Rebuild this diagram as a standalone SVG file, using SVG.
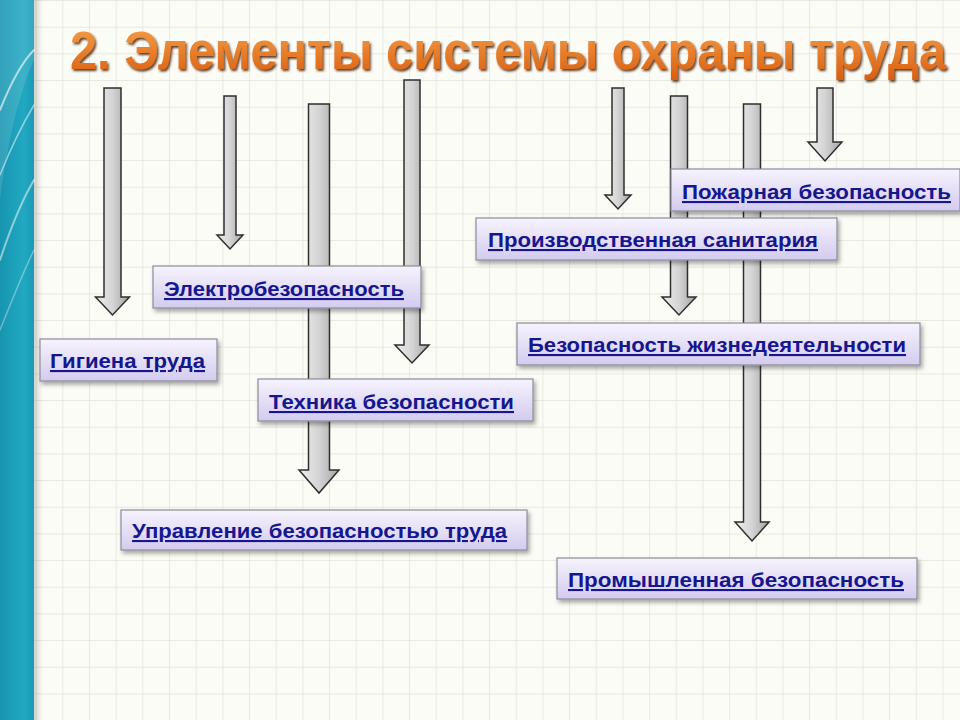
<svg xmlns="http://www.w3.org/2000/svg" width="960" height="720" viewBox="0 0 960 720">
<defs>
  <pattern id="grid" x="9" y="0" width="26.67" height="26.67" patternUnits="userSpaceOnUse">
    <path d="M0 0H26.67M0 0V26.67" fill="none" stroke="#e2e2da" stroke-width="1.4"/>
  </pattern>
  <linearGradient id="teal" x1="0" y1="0" x2="1" y2="0">
    <stop offset="0" stop-color="#1795b0"/>
    <stop offset="0.7" stop-color="#22a8c2"/>
    <stop offset="1" stop-color="#1a9ab4"/>
  </linearGradient>
  <linearGradient id="edge" x1="0" y1="0" x2="1" y2="0">
    <stop offset="0" stop-color="#000" stop-opacity="0.18"/>
    <stop offset="1" stop-color="#000" stop-opacity="0"/>
  </linearGradient>
  <linearGradient id="shaft" x1="0" y1="0" x2="1" y2="0">
    <stop offset="0" stop-color="#eeeeee"/>
    <stop offset="0.5" stop-color="#d4d4d4"/>
    <stop offset="1" stop-color="#a4a4a4"/>
  </linearGradient>
  <linearGradient id="box" x1="0" y1="0" x2="0" y2="1">
    <stop offset="0" stop-color="#f6f3fd"/>
    <stop offset="1" stop-color="#d4cbef"/>
  </linearGradient>
  <linearGradient id="title" x1="0" y1="0" x2="0" y2="1">
    <stop offset="0" stop-color="#f8a24a"/>
    <stop offset="1" stop-color="#d85e12"/>
  </linearGradient>
  <filter id="shadow" x="-5%" y="-20%" width="115%" height="150%">
    <feDropShadow dx="2" dy="3" stdDeviation="2" flood-color="#000" flood-opacity="0.35"/>
  </filter>
  <filter id="tshadow" x="-5%" y="-20%" width="110%" height="150%">
    <feDropShadow dx="1.5" dy="1.7" stdDeviation="1" flood-color="#4a2000" flood-opacity="0.85"/>
  </filter>
</defs>
<style>
  .arrow { fill: url(#shaft); stroke: #2e2e2e; stroke-width: 1.5; stroke-linejoin: miter; }
  .box { fill: url(#box); stroke: #8c8c9a; stroke-width: 1.2; filter: url(#shadow); }
  .lbl { font-family: "Liberation Sans", Arial, sans-serif; font-weight: bold; font-size: 21px; fill: #16168e; text-decoration: underline; }
  .title { font-family: "Liberation Sans", Arial, sans-serif; font-weight: bold; font-size: 44px; fill: url(#title); filter: url(#tshadow); }
</style>

<rect width="960" height="720" fill="#fcfcf7"/>
<rect x="33" width="927" height="720" fill="url(#grid)"/>
<rect x="33" width="10" height="720" fill="url(#edge)"/>
<rect width="34" height="720" fill="url(#teal)"/>
<g fill="none" stroke="#ffffff" stroke-linecap="round">
  <path d="M0 110 C 12 80, 24 60, 34 50" stroke-opacity="0.6" stroke-width="2"/>
  <path d="M0 175 C 10 150, 22 125, 34 105" stroke-opacity="0.5" stroke-width="1.5"/>
  <path d="M0 260 C 10 230, 22 200, 34 180" stroke-opacity="0.5" stroke-width="2"/>
  <path d="M0 330 C 12 300, 24 270, 34 250" stroke-opacity="0.35" stroke-width="1.5"/>
</g>
<path d="M0 0 H34 V60 C 20 90, 8 140, 0 200 Z" fill="#ffffff" fill-opacity="0.12"/>

<text class="title" transform="scale(1,1.2)" x="70" y="57.5" textLength="876" lengthAdjust="spacingAndGlyphs">2. Элементы системы охраны труда</text>

<g id="connectors">
  <polygon class="arrow" points="104,88 121,88 121,297 129.5,297 112.5,315 95.5,297 104,297"/>
  <polygon class="arrow" points="224,96 236,96 236,235 243,235 230,249 217,235 224,235"/>
  <polygon class="arrow" points="308.5,104 329.5,104 329.5,470 339,470 319,493 299,470 308.5,470"/>
  <polygon class="arrow" points="404,80 420,80 420,345 429,345 412,363 395,345 404,345"/>
  <polygon class="arrow" points="612,88 624,88 624,195 631,195 618,209 605,195 612,195"/>
  <polygon class="arrow" points="670.5,96 687.5,96 687.5,297 696,297 679,315 662,297 670.5,297"/>
  <polygon class="arrow" points="743.5,104 760.5,104 760.5,522 769,522 752,541 735,522 743.5,522"/>
  <polygon class="arrow" points="817,88 833,88 833,142 842,142 825,161 808,142 817,142"/>
</g>

<g id="node-gigiena">
  <rect class="box" x="40" y="339" width="177" height="42"/>
  <text class="lbl" x="50" y="368" textLength="155" lengthAdjust="spacingAndGlyphs">Гигиена труда</text>
</g>
<g id="node-elektro">
  <rect class="box" x="153" y="266" width="268" height="42"/>
  <text class="lbl" x="164" y="296" textLength="240" lengthAdjust="spacingAndGlyphs">Электробезопасность</text>
</g>
<g id="node-tehnika">
  <rect class="box" x="258" y="379" width="275" height="42"/>
  <text class="lbl" x="269" y="409" textLength="245" lengthAdjust="spacingAndGlyphs">Техника безопасности</text>
</g>
<g id="node-upravlenie">
  <rect class="box" x="121" y="510" width="406" height="40"/>
  <text class="lbl" x="132" y="538" textLength="375" lengthAdjust="spacingAndGlyphs">Управление безопасностью труда</text>
</g>
<g id="node-sanitaria">
  <rect class="box" x="476" y="218" width="361" height="42"/>
  <text class="lbl" x="488" y="247" textLength="330" lengthAdjust="spacingAndGlyphs">Производственная санитария</text>
</g>
<g id="node-pozharnaya">
  <rect class="box" x="671" y="169" width="289" height="42"/>
  <text class="lbl" x="682" y="199" textLength="269" lengthAdjust="spacingAndGlyphs">Пожарная безопасность</text>
</g>
<g id="node-bzhd">
  <rect class="box" x="517" y="323" width="403" height="42"/>
  <text class="lbl" x="528" y="352" textLength="378" lengthAdjust="spacingAndGlyphs">Безопасность жизнедеятельности</text>
</g>
<g id="node-prom">
  <rect class="box" x="557" y="558" width="360" height="41"/>
  <text class="lbl" x="568" y="587" textLength="336" lengthAdjust="spacingAndGlyphs">Промышленная безопасность</text>
</g>
</svg>
